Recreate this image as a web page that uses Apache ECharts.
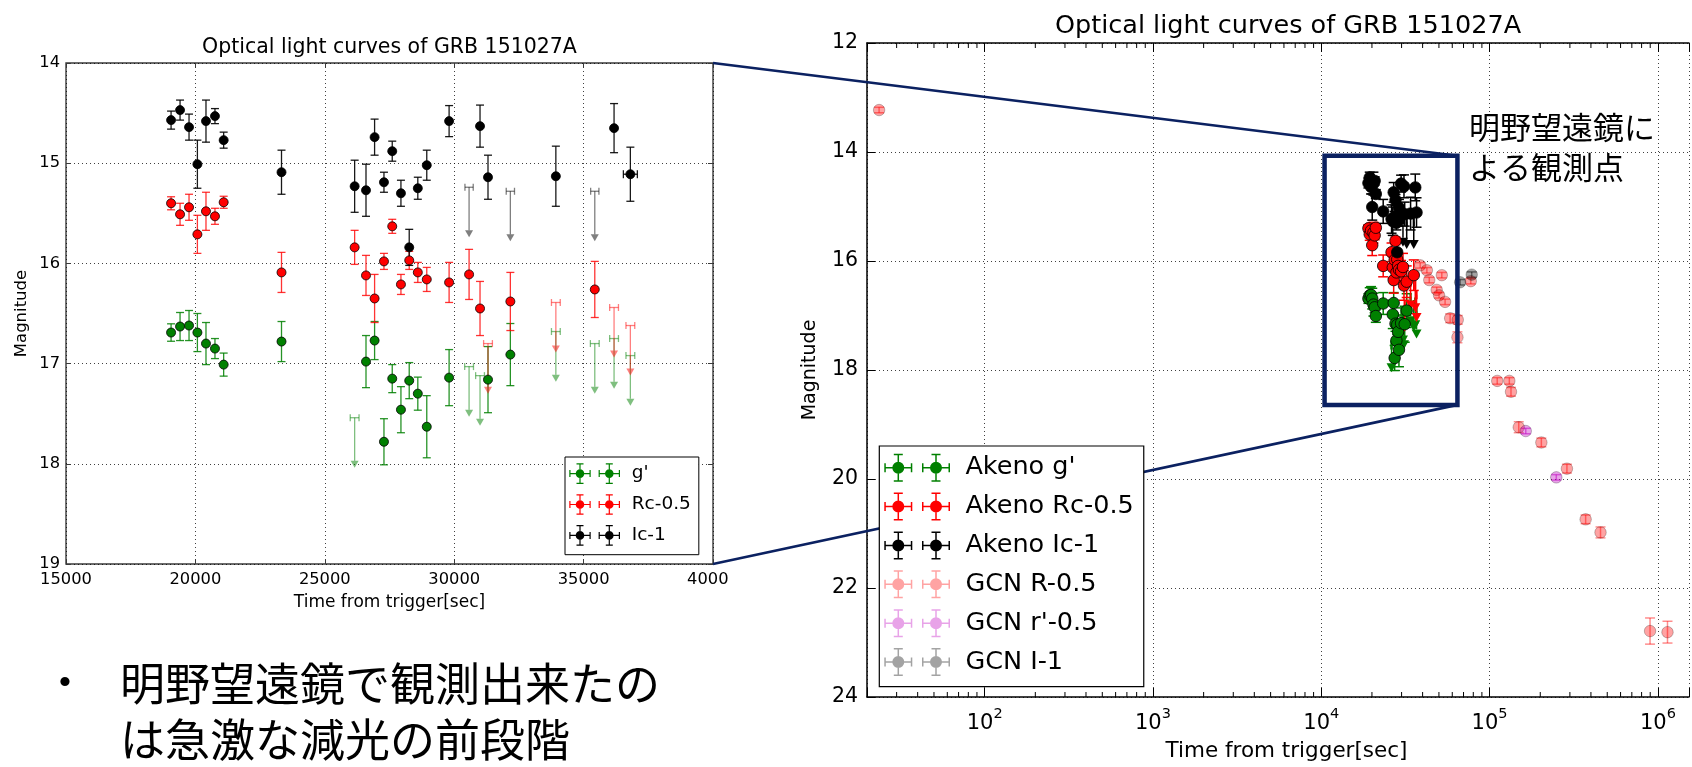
<!DOCTYPE html>
<html>
<head>
<meta charset="utf-8">
<script src="https://cdn.jsdelivr.net/npm/echarts@6/dist/echarts.min.js"></script>
<style>
html,body{margin:0;padding:0;background:#fff;}
#c{width:1692px;height:767px;}
</style>
</head>
<body>
<div id="c"></div>
<script>
// ---------------- DATA ----------------
// Akeno points: [time (s), magnitude, mag error, time error]
const akenoG = [
  [19060,16.69,0.087,0],[19407,16.63,0.14,0],[19754,16.62,0.15,0],[20077,16.69,0.19,0],
  [20409,16.80,0.21,0],[20756,16.85,0.10,0],[21092,17.01,0.115,0],[23327,16.78,0.20,0],
  [26592,16.98,0.26,0],[26924,16.77,0.19,0],[27286,17.78,0.23,0],[27606,17.15,0.14,0],
  [27942,17.46,0.23,0],[28262,17.17,0.18,0],[28594,17.30,0.165,0],[28940,17.63,0.31,0],
  [29803,17.14,0.28,0],[31306,17.16,0.33,0],[32170,16.91,0.31,0]
];
const akenoR = [
  [19060,15.40,0.065,0],[19407,15.51,0.11,0],[19754,15.44,0.13,0],[20077,15.71,0.19,0],
  [20409,15.48,0.19,0],[20756,15.53,0.08,0],[21092,15.39,0.06,0],[23327,16.09,0.20,0],
  [26153,15.84,0.17,0],[26592,16.12,0.20,0],[26924,16.35,0.24,0],[27286,15.98,0.08,0],
  [27606,15.63,0.07,0],[27942,16.21,0.10,0],[28262,15.97,0.09,0],[28594,16.09,0.10,0],
  [28940,16.16,0.12,0],[29803,16.19,0.20,0],[30575,16.11,0.25,0],[30998,16.45,0.27,0],
  [32170,16.38,0.29,0],[35432,16.26,0.28,0]
];
const akenoI = [
  [19060,14.57,0.09,0],[19407,14.47,0.10,0],[19754,14.64,0.13,0],[20077,15.01,0.24,0],
  [20409,14.58,0.21,0],[20756,14.53,0.075,0],[21092,14.77,0.08,0],[23327,15.09,0.22,0],
  [26153,15.23,0.26,0],[26592,15.27,0.26,0],[26924,14.74,0.18,0],[27286,15.19,0.10,0],
  [27606,14.88,0.10,0],[27942,15.30,0.13,0],[28262,15.84,0.18,0],[28594,15.25,0.11,0],
  [28940,15.02,0.15,0],[29803,14.58,0.155,0],[30998,14.63,0.21,0],[31306,15.14,0.22,0],
  [33928,15.13,0.30,0],[36177,14.65,0.245,0],[36807,15.11,0.27,270]
];
// Akeno upper limits: [time, limiting magnitude, time error]
const akenoGUpper = [[26153,17.54,170],[30575,17.03,170],[30998,17.12,170],[33928,16.68,170],[35432,16.80,170],[36177,16.75,170],[36807,16.92,170]];
const akenoRUpper = [[31306,16.80,170],[33928,16.39,170],[36177,16.44,170],[36807,16.62,170]];
const akenoIUpper = [[30575,15.24,160],[32170,15.28,160],[35432,15.28,160]];
// GCN points: [time, magnitude, mag error]
const gcnR = [
  [23.6,13.23,0.05],[38700,16.08,0.05],[42400,16.17,0.05],[43800,16.35,0.05],[48500,16.53,0.05],
  [52000,16.26,0.05],[50100,16.63,0.05],[54400,16.75,0.05],[58300,17.05,0.08],[64700,17.08,0.08],
  [64400,17.40,0.10],[77300,16.37,0.05],[111000,18.20,0.06],[131000,18.20,0.06],[134000,18.40,0.08],
  [149000,19.05,0.10],[203000,19.33,0.08],[288000,19.81,0.08],[372000,20.74,0.08],[456000,20.98,0.10],
  [898000,22.79,0.24],[1140000,22.81,0.20]
];
const gcnRp = [[164000,19.12,0.05],[249000,19.97,0.05]];
const gcnI = [[66800,16.39,0.05],[78300,16.25,0.05]];

// axes / ticks / labels
const leftXTicks = [15000,20000,25000,30000,35000,40000];
const leftXLabels = ['15000','20000','25000','30000','35000','4000'];
const rightMinorTicks = [30,40,50,60,70,80,90,200,300,400,500,600,700,800,900,
  2000,3000,4000,5000,6000,7000,8000,9000,20000,30000,40000,50000,60000,70000,80000,90000,
  200000,300000,400000,500000,600000,700000,800000,900000];
const zoomBoxTime = [10460, 64400];
const zoomBoxMag = [14.07, 18.64];
const TITLE = 'Optical light curves of GRB 151027A';
const XNAME = 'Time from trigger[sec]';
const YNAME = 'Magnitude';
const ANNOT = ['明野望遠鏡に', 'よる観測点'];
const BULLET = ['明野望遠鏡で観測出来たの', 'は急激な減光の前段階'];

// ---------------- HELPERS ----------------
const FONT = 'DejaVu Sans';
const ARROW_LEN = 0.5;

function errSeries(name, data, xi, yi, color, cap, lw) {
  return {
    type: 'custom', name: name, xAxisIndex: xi, yAxisIndex: yi, z: 2, silent: true,
    data: data, encode: {x: 0, y: 1},
    renderItem: function (params, api) {
      const x = api.value(0), y = api.value(1), e = api.value(2), xe = api.value(3) || 0;
      const a = api.coord([x, y - e]), b = api.coord([x, y + e]);
      const st = {stroke: color, lineWidth: lw};
      const ch = [
        {type: 'line', shape: {x1: a[0], y1: a[1], x2: b[0], y2: b[1]}, style: st},
        {type: 'line', shape: {x1: a[0] - cap, y1: a[1], x2: a[0] + cap, y2: a[1]}, style: st},
        {type: 'line', shape: {x1: b[0] - cap, y1: b[1], x2: b[0] + cap, y2: b[1]}, style: st}
      ];
      if (xe > 0) {
        const l = api.coord([x - xe, y]), r = api.coord([x + xe, y]);
        ch.push({type: 'line', shape: {x1: l[0], y1: l[1], x2: r[0], y2: r[1]}, style: st});
        ch.push({type: 'line', shape: {x1: l[0], y1: l[1] - cap, x2: l[0], y2: l[1] + cap}, style: st});
        ch.push({type: 'line', shape: {x1: r[0], y1: r[1] - cap, x2: r[0], y2: r[1] + cap}, style: st});
      }
      return {type: 'group', children: ch};
    }
  };
}
function dotSeries(name, data, xi, yi, color, border, size) {
  return {
    type: 'scatter', name: name, xAxisIndex: xi, yAxisIndex: yi, z: 3, silent: true,
    symbol: 'circle', symbolSize: size,
    data: data.map(function (d) { return [d[0], d[1]]; }),
    itemStyle: {color: color, borderColor: border, borderWidth: 0.8, opacity: 1}
  };
}
function upperSeries(name, data, xi, yi, color, cap, lw, hw, hh) {
  return {
    type: 'custom', name: name, xAxisIndex: xi, yAxisIndex: yi, z: 2, silent: true,
    data: data, encode: {x: 0, y: 1},
    renderItem: function (params, api) {
      const x = api.value(0), m = api.value(1), xe = api.value(2);
      const t = api.coord([x, m]), b = api.coord([x, m + ARROW_LEN]);
      const l = api.coord([x - xe, m]), r = api.coord([x + xe, m]);
      const st = {stroke: color, lineWidth: lw};
      return {type: 'group', children: [
        {type: 'line', shape: {x1: l[0], y1: l[1], x2: r[0], y2: r[1]}, style: st},
        {type: 'line', shape: {x1: l[0], y1: l[1] - cap, x2: l[0], y2: l[1] + cap}, style: st},
        {type: 'line', shape: {x1: r[0], y1: r[1] - cap, x2: r[0], y2: r[1] + cap}, style: st},
        {type: 'line', shape: {x1: t[0], y1: t[1], x2: b[0], y2: b[1] - hh}, style: st},
        {type: 'polygon', shape: {points: [[b[0] - hw, b[1] - hh], [b[0] + hw, b[1] - hh], [b[0], b[1]]]}, style: {fill: color}}
      ]};
    }
  };
}
function legendIcon(bx, by, spacing, cap, lw, r) {
  const rect = function (x, y, w, h) { return 'M' + x + ',' + y + 'h' + w + 'v' + h + 'h' + (-w) + 'Z'; };
  const cy = by;
  let p = '';
  [bx, bx + spacing].forEach(function (cx) {
    p += rect(cx - bx, cy - lw / 2, 2 * bx, lw);
    p += rect(cx - lw / 2, cy - by, lw, 2 * by);
    p += rect(cx - cap, cy - by, 2 * cap, lw);
    p += rect(cx - cap, cy + by - lw, 2 * cap, lw);
    p += rect(cx - bx, cy - cap, lw, 2 * cap);
    p += rect(cx + bx - lw, cy - cap, lw, 2 * cap);
    p += 'M' + (cx - r) + ',' + cy + 'A' + r + ',' + r + ' 0 1,1 ' + (cx + r) + ',' + cy +
         'A' + r + ',' + r + ' 0 1,1 ' + (cx - r) + ',' + cy + 'Z';
  });
  return 'path://' + p;
}

// colours
const GREEN = '#008000', RED = '#ff0000', BLACK = '#000000';
const GCN_R = 'rgba(255,0,0,0.36)', GCN_RP = 'rgba(191,0,191,0.36)', GCN_I = 'rgba(0,0,0,0.36)';
const NAVY = '#0B2161';

const iconL = legendIcon(10.7, 10.3, 29.3, 3.5, 1.2, 4.3);
const iconR = legendIcon(14, 14, 37.7, 4.5, 1.5, 6);

// ---------------- CHART ----------------
const chart = echarts.init(document.getElementById('c'), null, {renderer: 'canvas', width: 1692, height: 767});

const dotted = {color: '#000', width: 1, type: [1, 3], opacity: 0.75};
const spineR = {show: true, onZero: false, lineStyle: {color: '#000', width: 1.5}};
const lg = function (name, icon, color) { return {name: name, icon: icon, itemStyle: {color: color, borderWidth: 0, opacity: 1}}; };

const option = {
  animation: false,
  backgroundColor: '#fff',
  textStyle: {fontFamily: FONT},
  grid: [
    {left: 66, top: 63, width: 647, height: 501, show: true, borderColor: '#3a3a3a', borderWidth: 1.4, backgroundColor: 'transparent'},
    {left: 867, top: 43, width: 825, height: 658, show: false}
  ],
  xAxis: [
    {gridIndex: 0, type: 'value', min: 15000, max: 40000, interval: 5000,
     axisLine: {show: false}, axisTick: {show: true, inside: true, length: 5, lineStyle: {color: '#3a3a3a'}},
     axisLabel: {fontSize: 16.3, color: '#000', margin: 8, fontFamily: FONT,
       formatter: function (v) {
         const i = leftXTicks.indexOf(v);
         if (i < 0) return '';
         return i === leftXTicks.length - 1 ? '{cut|' + leftXLabels[i] + '}' : leftXLabels[i];
       },
       rich: {cut: {fontSize: 16.3, fontFamily: FONT, color: '#000', padding: [0, 10.4, 0, 0]}}},
     splitLine: {show: true, lineStyle: dotted},
     name: XNAME, nameLocation: 'middle', nameGap: 30, nameTextStyle: {fontSize: 17, color: '#000', fontFamily: FONT}},
    {gridIndex: 0, type: 'value', position: 'top', min: 15000, max: 40000, interval: 5000,
     axisLine: {show: false}, axisTick: {show: true, inside: true, length: 5, lineStyle: {color: '#3a3a3a'}},
     axisLabel: {show: false}, splitLine: {show: false}},
    {gridIndex: 1, type: 'log', logBase: 10, min: 20, max: 1530000,
     axisLine: spineR, axisTick: {show: true, inside: true, length: 9, lineStyle: {color: '#000'}},
     axisLabel: {color: '#000', margin: 10,
       formatter: function (v) {
         const l = Math.log10(v), r = Math.round(l);
         if (Math.abs(l - r) > 1e-6 || v < 50) return '';
         return '{b|10}{s|' + r + '}';
       },
       rich: {b: {fontSize: 21, fontFamily: FONT, color: '#000', verticalAlign: 'bottom', lineHeight: 27},
              s: {fontSize: 14.5, fontFamily: FONT, color: '#000', verticalAlign: 'top', lineHeight: 27}}},
     splitLine: {show: true, lineStyle: dotted},
     name: XNAME, nameLocation: 'middle', nameGap: 43,
     nameTextStyle: {fontSize: 21.5, color: '#000', fontFamily: FONT, padding: [0, 0, 0, 17]}},
    {gridIndex: 1, type: 'log', logBase: 10, position: 'top', min: 20, max: 1530000,
     axisLine: spineR, axisTick: {show: true, inside: true, length: 9, lineStyle: {color: '#000'}},
     axisLabel: {show: false}, splitLine: {show: false}}
  ],
  yAxis: [
    {gridIndex: 0, type: 'value', inverse: true, min: 14, max: 19, interval: 1,
     axisLine: {show: false}, axisTick: {show: true, inside: true, length: 5, lineStyle: {color: '#3a3a3a'}},
     axisLabel: {fontSize: 16.3, color: '#000', margin: 6, fontFamily: FONT},
     splitLine: {show: true, lineStyle: dotted},
     name: YNAME, nameLocation: 'middle', nameGap: 36, nameTextStyle: {fontSize: 16.5, color: '#000', fontFamily: FONT}},
    {gridIndex: 0, type: 'value', position: 'right', inverse: true, min: 14, max: 19, interval: 1,
     axisLine: {show: false}, axisTick: {show: true, inside: true, length: 5, lineStyle: {color: '#3a3a3a'}},
     axisLabel: {show: false}, splitLine: {show: false}},
    {gridIndex: 1, type: 'value', inverse: true, min: 12, max: 24, interval: 2,
     axisLine: spineR, axisTick: {show: true, inside: true, length: 8, lineStyle: {color: '#000'}},
     axisLabel: {fontSize: 20.5, color: '#000', margin: 9, fontFamily: FONT},
     splitLine: {show: true, lineStyle: dotted},
     name: YNAME, nameLocation: 'middle', nameGap: 47, nameTextStyle: {fontSize: 19, color: '#000', fontFamily: FONT}}
  ],
  legend: [
    {left: 565, top: 457, orient: 'vertical', padding: [6.3, 8, 9, 4.3], itemGap: 10.3,
     itemWidth: 50.7, itemHeight: 20.6, backgroundColor: '#fff', borderColor: '#000', borderWidth: 1,
     selectedMode: false, z: 10,
     formatter: function (n) { return '{sp|}' + n; },
     textStyle: {fontSize: 18.5, color: '#000', fontFamily: FONT, rich: {sp: {width: 6.7}}},
     data: [lg("g'", iconL, GREEN), lg('Rc-0.5', iconL, RED), lg('Ic-1', iconL, BLACK)]},
    {left: 879.3, top: 446, orient: 'vertical', padding: [7.7, 10, 10.7, 5], itemGap: 10.86,
     itemWidth: 65.7, itemHeight: 28, backgroundColor: '#fff', borderColor: '#000', borderWidth: 1.2,
     selectedMode: false, z: 10,
     formatter: function (n) { return '{sp|}' + n; },
     textStyle: {fontSize: 25.5, color: '#000', fontFamily: FONT, rich: {sp: {width: 10.4}}},
     data: [lg("Akeno g'", iconR, GREEN), lg('Akeno Rc-0.5', iconR, RED), lg('Akeno Ic-1', iconR, BLACK),
            lg('GCN R-0.5', iconR, GCN_R), lg("GCN r'-0.5", iconR, GCN_RP), lg('GCN I-1', iconR, GCN_I)]}
  ],
  series: [
    // ---- left chart
    dotSeries("g'", akenoG, 0, 0, GREEN, '#000', 9),
    errSeries("g'", akenoG, 0, 0, 'rgba(0,128,0,0.85)', 4, 1.3),
    upperSeries("g'", akenoGUpper, 0, 0, 'rgba(0,128,0,0.5)', 3.5, 1.3, 4, 7),
    dotSeries('Rc-0.5', akenoR, 0, 0, RED, '#000', 9),
    errSeries('Rc-0.5', akenoR, 0, 0, 'rgba(255,0,0,0.8)', 4, 1.3),
    upperSeries('Rc-0.5', akenoRUpper, 0, 0, 'rgba(255,0,0,0.5)', 3.5, 1.3, 4, 7),
    dotSeries('Ic-1', akenoI, 0, 0, BLACK, '#000', 9),
    errSeries('Ic-1', akenoI, 0, 0, 'rgba(0,0,0,0.9)', 4, 1.3),
    upperSeries('Ic-1', akenoIUpper, 0, 0, 'rgba(0,0,0,0.5)', 3.5, 1.3, 4, 7),
    // ---- right chart
    dotSeries("Akeno g'", akenoG, 2, 2, GREEN, '#000', 11.5),
    errSeries("Akeno g'", akenoG, 2, 2, GREEN, 5, 1.5),
    upperSeries("Akeno g'", akenoGUpper, 2, 2, GREEN, 4.5, 1.5, 5, 9),
    dotSeries('Akeno Rc-0.5', akenoR, 2, 2, RED, '#000', 11.5),
    errSeries('Akeno Rc-0.5', akenoR, 2, 2, RED, 5, 1.5),
    upperSeries('Akeno Rc-0.5', akenoRUpper, 2, 2, RED, 4.5, 1.5, 5, 9),
    dotSeries('Akeno Ic-1', akenoI, 2, 2, BLACK, '#000', 11.5),
    errSeries('Akeno Ic-1', akenoI, 2, 2, BLACK, 5, 1.5),
    upperSeries('Akeno Ic-1', akenoIUpper, 2, 2, BLACK, 4.5, 1.5, 5, 9),
    dotSeries('GCN R-0.5', gcnR, 2, 2, GCN_R, 'rgba(0,0,0,0.3)', 11.5),
    errSeries('GCN R-0.5', gcnR.map(function (d) { return [d[0], d[1], d[2], 0]; }), 2, 2, 'rgba(255,0,0,0.45)', 5, 1.5),
    dotSeries("GCN r'-0.5", gcnRp, 2, 2, GCN_RP, 'rgba(0,0,0,0.3)', 11.5),
    errSeries("GCN r'-0.5", gcnRp.map(function (d) { return [d[0], d[1], d[2], 0]; }), 2, 2, 'rgba(191,0,191,0.5)', 5, 1.5),
    dotSeries('GCN I-1', gcnI, 2, 2, GCN_I, 'rgba(0,0,0,0.3)', 11.5),
    errSeries('GCN I-1', gcnI.map(function (d) { return [d[0], d[1], d[2], 0]; }), 2, 2, 'rgba(0,0,0,0.45)', 5, 1.5),
    // minor ticks of the log axis (top and bottom)
    {type: 'custom', xAxisIndex: 2, yAxisIndex: 2, silent: true, z: 4, data: rightMinorTicks.map(function (v) { return [v, 18]; }),
     renderItem: function (params, api) {
       const p = api.coord([api.value(0), api.value(1)]);
       const cs = params.coordSys;
       const st = {stroke: '#000', lineWidth: 1};
       return {type: 'group', children: [
         {type: 'line', shape: {x1: p[0], y1: cs.y + cs.height, x2: p[0], y2: cs.y + cs.height - 5}, style: st},
         {type: 'line', shape: {x1: p[0], y1: cs.y, x2: p[0], y2: cs.y + 5}, style: st}
       ]};
     }},
    // zoom box (Akeno observations region)
    {type: 'custom', xAxisIndex: 2, yAxisIndex: 2, silent: true, z: 6, data: [[zoomBoxTime[0], zoomBoxMag[0], zoomBoxTime[1], zoomBoxMag[1]]],
     renderItem: function (params, api) {
       const a = api.coord([api.value(0), api.value(1)]), b = api.coord([api.value(2), api.value(3)]);
       return {type: 'rect', shape: {x: a[0], y: a[1], width: b[0] - a[0], height: b[1] - a[1]},
               style: {fill: 'none', stroke: NAVY, lineWidth: 4.5}};
     }}
  ]
};
chart.setOption(option);

// connectors between the two panels, from the library's own scales
const lx = chart.convertToPixel({xAxisIndex: 0}, leftXTicks[leftXTicks.length - 1]);
const lyTop = chart.convertToPixel({yAxisIndex: 0}, 14);
const lyBot = chart.convertToPixel({yAxisIndex: 0}, 19);
const rx = chart.convertToPixel({xAxisIndex: 2}, zoomBoxTime[1]);
const ryTop = chart.convertToPixel({yAxisIndex: 2}, zoomBoxMag[0]);
const ryBot = chart.convertToPixel({yAxisIndex: 2}, zoomBoxMag[1]);

function txt(x, y, text, font, align) {
  return {type: 'text', x: x, y: y, z: 20,
    style: {text: text, font: font, fill: '#000', textAlign: align, align: align,
            textVerticalAlign: 'middle', verticalAlign: 'middle'}};
}
chart.setOption({
  graphic: {elements: [
    {type: 'line', z: 5, shape: {x1: lx, y1: lyTop, x2: rx, y2: ryTop}, style: {stroke: NAVY, lineWidth: 2.6}},
    {type: 'line', z: 5, shape: {x1: lx, y1: lyBot, x2: rx, y2: ryBot}, style: {stroke: NAVY, lineWidth: 2.6}},
    txt(389.5, 48, TITLE, '20.5px "DejaVu Sans"', 'center'),
    txt(1288, 26, TITLE, '25.5px "DejaVu Sans"', 'center'),
    txt(1469, 127, ANNOT[0], '31px "Noto Sans CJK JP"', 'left'),
    txt(1469, 167, ANNOT[1], '31px "Noto Sans CJK JP"', 'left'),
    txt(65, 684, '•', '34px "Liberation Sans"', 'center'),
    txt(120, 684, BULLET[0], '45px "Noto Sans CJK JP"', 'left'),
    txt(120, 740, BULLET[1], '45px "Noto Sans CJK JP"', 'left')
  ]}
});
</script>
</body>
</html>
